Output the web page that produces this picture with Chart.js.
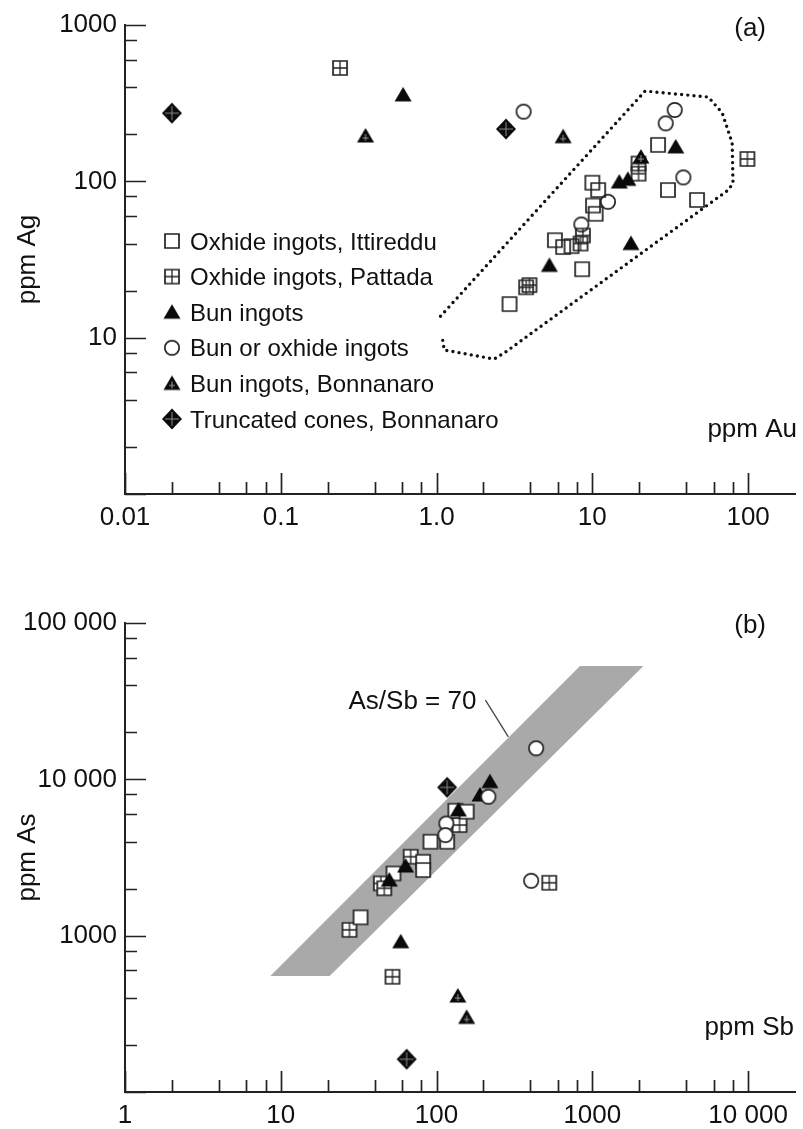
<!DOCTYPE html>
<html>
<head>
<meta charset="utf-8">
<title>Ag–Au and As–Sb in Sardinian copper ingots</title>
<script src="https://cdn.jsdelivr.net/npm/chart.js@4/dist/chart.umd.min.js"></script>
<style>
  html, body { margin: 0; padding: 0; background: #ffffff; }
  #wrap { position: relative; width: 803px; height: 1129px; overflow: hidden; background: #ffffff; }
  canvas { position: absolute; left: 0; }
  #chartA { top: 0; }
  #chartB { top: 559px; }
</style>
</head>
<body>
<div id="wrap">
  <canvas id="chartA" width="803" height="559"></canvas>
  <canvas id="chartB" width="803" height="570"></canvas>
</div>
<script>
// ---------- series names ----------
const seriesLabels = [
  'Oxhide ingots, Ittireddu',
  'Oxhide ingots, Pattada',
  'Bun ingots',
  'Bun or oxhide ingots',
  'Bun ingots, Bonnanaro',
  'Truncated cones, Bonnanaro'
];

// ---------- panel (a): ppm Au vs ppm Ag ----------
const ittAu = [2.94, 5.75, 6.5, 7.35, 8.6, 10.0, 10.9, 10.1, 10.5, 26.4, 30.6, 47];
const ittAg = [16.4, 42, 38, 38.5, 27.4, 98, 88, 70, 62, 171, 88, 76];
const patAu = [0.24, 99, 19.8, 19.8, 8.7, 8.4, 3.95, 3.76];
const patAg = [531, 139, 130, 112, 45, 40, 21.7, 21];
const bunAu = [0.61, 14.9, 16.9, 34.3, 17.7, 5.3];
const bunAg = [357, 99, 103, 166, 40, 29];
const mixAu = [3.62, 33.8, 29.6, 38.4, 12.6, 8.5];
const mixAg = [279, 286, 235, 106, 74, 53];
const bonAu = [0.35, 6.5, 20.5];
const bonAg = [195, 193, 143];
const coneAu = [0.02, 2.79];
const coneAg = [273, 216];

// dotted outline round the main group
const hullAu = [1.06, 21.8, 55.6, 68.2, 79, 80, 74.6, 2.71, 2.34, 1.12, 1.09];
const hullAg = [13.7, 378, 346, 274, 176, 97.5, 88, 7.96, 7.3, 8.34, 9.94];

// ---------- panel (b): ppm Sb vs ppm As ----------
const ittSb = [132, 156, 117, 91.4, 82, 82, 52.9, 32.5];
const ittAs = [6300, 6210, 3990, 3990, 2970, 2630, 2500, 1310];
const patSb = [140.5, 68.2, 43.9, 46.2, 27.6, 529, 52.1];
const patAs = [5100, 3200, 2160, 2010, 1090, 2180, 546];
const bunSb = [220, 190, 138, 63.3, 49.7, 58.9];
const bunAs = [9660, 7940, 6370, 2790, 2270, 914];
const mixSb = [436, 215, 115.6, 114, 405];
const mixAs = [15800, 7740, 5220, 4400, 2245];
const bonSb = [137, 156];
const bonAs = [411, 300];
const coneSb = [117, 64.3];
const coneAs = [8890, 162];

// grey As/Sb band and its label leader
const bandSb = [8.57, 833, 2128, 20.6];
const bandAs = [552, 53000, 53000, 552];
const leaderSb = [206, 289];
const leaderAs = [32100, 18700];
const bandLabel = 'As/Sb = 70';

// ---------- axes ----------
const auRange = [0.01, 200];
const agRange = [1, 1000];
const sbRange = [1, 20000];
const asRange = [100, 100000];
const auMajor = [0.01, 0.1, 1, 10, 100];
const auMajorText = ['0.01', '0.1', '1.0', '10', '100'];
const agMajor = [1, 10, 100, 1000];
const agMajorText = ['', '10', '100', '1000'];
const sbMajor = [1, 10, 100, 1000, 10000];
const sbMajorText = ['1', '10', '100', '1000', '10 000'];
const asMajor = [100, 1000, 10000, 100000];
const asMajorText = ['', '1000', '10 000', '100 000'];
const minorSteps = [2, 4, 6, 8];

// ---------- styling ----------
const FONT = '"Liberation Sans", Arial, Helvetica, sans-serif';
const INK = '#111111';
const LINE = '#222222';
Chart.defaults.font.family = FONT;
Chart.defaults.color = INK;
Chart.defaults.animation = false;

function minorTicks(majors, range) {
  const out = [];
  majors.forEach(m => minorSteps.forEach(k => {
    const v = m * k;
    if (v > range[0] && v < range[1] * 0.98) out.push(v);
  }));
  return out;
}

function marker(kind, solidFill) {
  const S = 24, m = S / 2;
  const c = document.createElement('canvas');
  c.width = S; c.height = S;
  const g = c.getContext('2d');
  g.lineWidth = 1.7;
  g.strokeStyle = LINE;
  const openFill = () => { if (solidFill) { g.fillStyle = '#ffffff'; g.fill(); } };
  if (kind === 'square' || kind === 'grid') {
    g.beginPath();
    g.rect(m - 7, m - 7, 14, 14);
    openFill();
    g.stroke();
    if (kind === 'grid') {
      g.beginPath();
      g.moveTo(m, m - 7); g.lineTo(m, m + 7);
      g.moveTo(m - 7, m); g.lineTo(m + 7, m);
      g.lineWidth = 1.3;
      g.stroke();
    }
  } else if (kind === 'circle') {
    g.beginPath();
    g.arc(m, m, 7.2, 0, Math.PI * 2);
    openFill();
    g.stroke();
  } else if (kind === 'triangle' || kind === 'crossTriangle') {
    g.beginPath();
    g.moveTo(m, m - 8);
    g.lineTo(m + 8.5, m + 6.5);
    g.lineTo(m - 8.5, m + 6.5);
    g.closePath();
    g.fillStyle = '#0a0a0a';
    g.fill();
    if (kind === 'crossTriangle') {
      g.beginPath();
      g.moveTo(m, m - 2); g.lineTo(m, m + 5);
      g.moveTo(m - 3, m + 2); g.lineTo(m + 3, m + 2);
      g.strokeStyle = '#9a9a9a';
      g.lineWidth = 1;
      g.stroke();
    }
  } else if (kind === 'diamond') {
    g.beginPath();
    g.moveTo(m, m - 10.5);
    g.lineTo(m + 10, m);
    g.lineTo(m, m + 10.5);
    g.lineTo(m - 10, m);
    g.closePath();
    g.fillStyle = '#0a0a0a';
    g.fill();
    g.beginPath();
    g.moveTo(m, m - 7); g.lineTo(m, m + 7);
    g.moveTo(m - 7, m); g.lineTo(m + 7, m);
    g.strokeStyle = '#8a8a8a';
    g.lineWidth = 1;
    g.stroke();
  }
  return c;
}

const pts = (xs, ys) => xs.map((x, i) => ({ x, y: ys[i] }));

function seriesSets(groups, solidFill) {
  return groups.map((grp, i) => ({
    label: seriesLabels[i],
    data: pts(grp.x, grp.y),
    pointStyle: marker(grp.kind, solidFill),
    pointRadius: 7,
    pointHoverRadius: 7,
    order: grp.order,
    showLine: false,
    inLegend: true,
    legendIndex: i
  }));
}

// tick marks drawn on the inner side of both axes
function innerTicks(xMajor, xRange, yMajor, yRange) {
  const spec = {
    x: { major: xMajor, minor: minorTicks(xMajor, xRange) },
    y: { major: yMajor, minor: minorTicks(yMajor, yRange) }
  };
  return {
    id: 'innerTicks',
    afterDraw(chart) {
      const { ctx, chartArea } = chart;
      ctx.save();
      ctx.strokeStyle = LINE;
      ctx.lineWidth = 1.7;
      ctx.beginPath();
      ['x', 'y'].forEach(id => {
        const s = chart.scales[id];
        const put = (v, len) => {
          const p = Math.round(s.getPixelForValue(v)) + 0.5;
          if (id === 'x') { ctx.moveTo(p, chartArea.bottom); ctx.lineTo(p, chartArea.bottom - len); }
          else { ctx.moveTo(chartArea.left, p); ctx.lineTo(chartArea.left + len, p); }
        };
        spec[id].major.forEach(v => put(v, 21));
        spec[id].minor.forEach(v => put(v, 12));
      });
      ctx.stroke();
      ctx.restore();
    }
  };
}

// legend rows inside the plot
function legendRows(left, gap, top, step) {
  return {
    id: 'legendRows',
    afterDatasetsDraw(chart) {
      const { ctx, chartArea } = chart;
      const rows = chart.data.datasets.filter(d => d.inLegend).sort((a, b) => a.legendIndex - b.legendIndex);
      ctx.save();
      ctx.font = '24px ' + FONT;
      ctx.fillStyle = INK;
      ctx.textAlign = 'left';
      ctx.textBaseline = 'alphabetic';
      rows.forEach((d, i) => {
        const y = chartArea.top + top + i * step;
        const x = chartArea.left + left;
        const img = d.pointStyle;
        ctx.drawImage(img, x - img.width / 2, y - img.height / 2);
        ctx.fillText(d.label, x + gap, y + 8.5);
      });
      ctx.restore();
    }
  };
}

// panel letters, axis names and the band label
function notes(items) {
  return {
    id: 'notes',
    afterDraw(chart) {
      const { ctx, chartArea } = chart;
      ctx.save();
      ctx.font = '26px ' + FONT;
      ctx.fillStyle = INK;
      ctx.textBaseline = 'alphabetic';
      items.forEach(t => {
        let x, y;
        if (t.at) {
          x = chart.scales.x.getPixelForValue(t.at[0]) + t.dx;
          y = chart.scales.y.getPixelForValue(t.at[1]) + t.dy;
        } else {
          x = chartArea.right + t.dx;
          y = chartArea.top + t.dy;
        }
        ctx.textAlign = 'right';
        ctx.fillText(t.text, x, y);
      });
      ctx.restore();
    }
  };
}

function logAxis(range, majors, majorText, title, pos, fitSize) {
  const isX = pos === 'bottom';
  return {
    type: 'logarithmic',
    position: pos,
    min: range[0],
    max: range[1],
    grid: { display: false, drawTicks: false, drawOnChartArea: false },
    border: { display: true, color: LINE, width: 2 },
    afterBuildTicks: s => { s.ticks = majors.map(v => ({ value: v })); },
    afterFit: s => { if (isX) s.height = fitSize; else s.width = fitSize; },
    ticks: {
      autoSkip: false,
      maxRotation: 0,
      minRotation: 0,
      padding: 8,
      color: INK,
      font: { size: 26 },
      callback: v => {
        const i = majors.findIndex(m => Math.abs(m - v) / m < 1e-6);
        return i >= 0 ? majorText[i] : '';
      }
    },
    title: title ? {
      display: true,
      text: title,
      color: INK,
      font: { size: 26 },
      padding: { top: 12, bottom: 0 }
    } : { display: false }
  };
}

function baseOptions(xAxis, yAxis, padTop) {
  return {
    responsive: false,
    devicePixelRatio: 1,
    animation: false,
    layout: { padding: { top: padTop, right: 3, left: 0, bottom: 0 } },
    scales: { x: xAxis, y: yAxis },
    plugins: { legend: { display: false }, tooltip: { enabled: false } },
    events: []
  };
}

// ----- panel (a)
const setsA = seriesSets([
  { x: ittAu, y: ittAg, kind: 'square', order: 3 },
  { x: patAu, y: patAg, kind: 'grid', order: 4 },
  { x: bunAu, y: bunAg, kind: 'triangle', order: 1 },
  { x: mixAu, y: mixAg, kind: 'circle', order: 2 },
  { x: bonAu, y: bonAg, kind: 'crossTriangle', order: 1 },
  { x: coneAu, y: coneAg, kind: 'diamond', order: 1 }
], false);
setsA.push({
  label: 'outline',
  data: pts(hullAu, hullAg),
  showLine: true,
  fill: false,
  pointRadius: 0,
  borderColor: '#111111',
  borderWidth: 3.4,
  borderDash: [0, 6.2],
  borderCapStyle: 'round',
  order: 9
});

new Chart(document.getElementById('chartA'), {
  type: 'scatter',
  data: { datasets: setsA },
  options: baseOptions(
    logAxis(auRange, auMajor, auMajorText, null, 'bottom', 65),
    logAxis(agRange, agMajor, agMajorText, 'ppm Ag', 'left', 125),
    25
  ),
  plugins: [
    innerTicks(auMajor, auRange, agMajor, agRange),
    legendRows(47, 18, 216, 35.6),
    notes([
      { text: '(a)', dx: -29, dy: 11 },
      { text: 'ppm Au', dx: 2, dy: 412 }
    ])
  ]
});

// ----- panel (b)
const setsB = seriesSets([
  { x: ittSb, y: ittAs, kind: 'square', order: 3 },
  { x: patSb, y: patAs, kind: 'grid', order: 4 },
  { x: bunSb, y: bunAs, kind: 'triangle', order: 2 },
  { x: mixSb, y: mixAs, kind: 'circle', order: 1 },
  { x: bonSb, y: bonAs, kind: 'crossTriangle', order: 2 },
  { x: coneSb, y: coneAs, kind: 'diamond', order: 2 }
], true);
setsB.push({
  label: 'band',
  data: pts(bandSb, bandAs),
  showLine: true,
  fill: 'shape',
  backgroundColor: '#a9a9a9',
  borderWidth: 0,
  pointRadius: 0,
  order: 20
});
setsB.push({
  label: 'leader',
  data: pts(leaderSb, leaderAs),
  showLine: true,
  fill: false,
  borderColor: '#444444',
  borderWidth: 1.3,
  pointRadius: 0,
  order: 19
});

new Chart(document.getElementById('chartB'), {
  type: 'scatter',
  data: { datasets: setsB },
  options: baseOptions(
    logAxis(sbRange, sbMajor, sbMajorText, null, 'bottom', 37),
    logAxis(asRange, asMajor, asMajorText, 'ppm As', 'left', 125),
    64
  ),
  plugins: [
    innerTicks(sbMajor, sbRange, asMajor, asRange),
    notes([
      { text: '(b)', dx: -29, dy: 10 },
      { text: 'ppm Sb', dx: -1, dy: 412 },
      { text: bandLabel, at: [leaderSb[0], leaderAs[0]], dx: -9, dy: 9 }
    ])
  ]
});
</script>
</body>
</html>
